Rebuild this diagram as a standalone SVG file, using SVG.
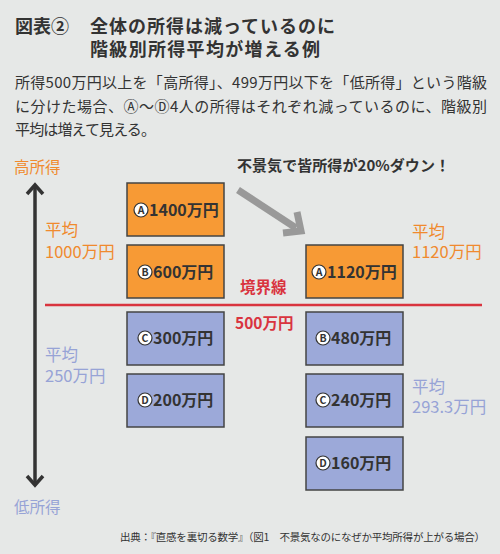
<svg xmlns="http://www.w3.org/2000/svg" width="500" height="554" viewBox="0 0 500 554">
<style>
text{font-family:"Noto Sans CJK JP","Noto Sans",sans-serif;}
.title{font-size:18px;font-weight:700;fill:#333;}
.body{font-size:15px;fill:#333;}
.org{fill:#f08a2e;font-size:16.5px;}
.blu{fill:#97a3d6;font-size:16.5px;}
.red{fill:#d9343f;font-size:15.5px;font-weight:700;}
.boxo{fill:#f79a35;stroke:#444;stroke-width:1.5;}
.boxb{fill:#9ca9d9;stroke:#444;stroke-width:1.5;}
.val{font-size:16px;font-weight:700;fill:#333;}
.circ{fill:#fff;stroke:#333;stroke-width:1.2;}
.let{font-size:10.5px;font-weight:700;fill:#333;text-anchor:middle;}
</style>
<rect width="500" height="554" fill="#e6e8e7"/>
<g id="title">
<text class="title" x="15" y="33">図表②</text>
<text class="title"><tspan x="90" y="33" textLength="245" lengthAdjust="spacing">全体の所得は減っているのに</tspan><tspan x="90" y="56" textLength="230" lengthAdjust="spacing">階級別所得平均が増える例</tspan></text>
</g>
<g id="description">
<text class="body"><tspan x="15" y="88" textLength="472" lengthAdjust="spacing">所得500万円以上を「高所得」、499万円以下を「低所得」という階級</tspan><tspan x="15" y="112" textLength="472" lengthAdjust="spacing">に分けた場合、Ⓐ～Ⓓ4人の所得はそれぞれ減っているのに、階級別</tspan><tspan x="15" y="135" textLength="141" lengthAdjust="spacing">平均は増えて見える。</tspan></text>
</g>
<g id="connectors">
<polyline points="35,483 35,186" fill="none" stroke="#333" stroke-width="3.5"/>
<polyline points="27,194 35,185 43,194" fill="none" stroke="#333" stroke-width="3.5"/>
<polyline points="27,476 35,485 43,476" fill="none" stroke="#333" stroke-width="3.5"/>
<line x1="45" y1="305" x2="482" y2="305" stroke="#d9343f" stroke-width="2.5"/>
<line x1="238" y1="190" x2="296" y2="228" stroke="#999" stroke-width="7"/>
<polyline points="283,233 301,231 297,212" fill="none" stroke="#999" stroke-width="7"/>
</g>
<g id="axis-labels">
<text x="14" y="173" font-size="15.5" fill="#f08a2e">高所得</text>
<text x="14" y="513" font-size="15.5" fill="#97a3d6">低所得</text>
</g>
<g id="avg-left-high">
<text class="org"><tspan x="45" y="236">平均</tspan><tspan x="45" y="258">1000万円</tspan></text>
</g>
<g id="avg-left-low">
<text class="blu"><tspan x="45" y="361">平均</tspan><tspan x="45" y="382">250万円</tspan></text>
</g>
<g id="avg-right-high">
<text class="org"><tspan x="412" y="238">平均</tspan><tspan x="412" y="258">1120万円</tspan></text>
</g>
<g id="avg-right-low">
<text class="blu"><tspan x="412" y="393">平均</tspan><tspan x="412" y="413">293.3万円</tspan></text>
</g>
<g id="boundary">
<text class="red" x="240" y="293">境界線</text>
<text class="red" x="235" y="329">500万円</text>
</g>
<g id="caption">
<text x="237" y="171" font-size="15" font-weight="700" fill="#333" textLength="213" lengthAdjust="spacing">不景気で皆所得が20%ダウン！</text>
</g>
<g id="box-A-before">
<rect class="boxo" x="127" y="183" width="97" height="53"/>
<circle class="circ" cx="141" cy="210" r="7"/><text class="let" x="141" y="213.8">A</text>
<text class="val" x="149" y="216">1400万円</text>
</g>
<g id="box-B-before">
<rect class="boxo" x="127" y="245" width="97" height="53"/>
<circle class="circ" cx="145" cy="272" r="7"/><text class="let" x="145" y="275.8">B</text>
<text class="val" x="153" y="278">600万円</text>
</g>
<g id="box-C-before">
<rect class="boxb" x="127" y="312" width="97" height="53"/>
<circle class="circ" cx="145" cy="338" r="7"/><text class="let" x="145" y="341.8">C</text>
<text class="val" x="153" y="344">300万円</text>
</g>
<g id="box-D-before">
<rect class="boxb" x="127" y="374" width="97" height="53"/>
<circle class="circ" cx="145" cy="400" r="7"/><text class="let" x="145" y="403.8">D</text>
<text class="val" x="153" y="406">200万円</text>
</g>
<g id="box-A-after">
<rect class="boxo" x="306" y="245" width="97" height="53"/>
<circle class="circ" cx="319" cy="272" r="7"/><text class="let" x="319" y="275.8">A</text>
<text class="val" x="327" y="278">1120万円</text>
</g>
<g id="box-B-after">
<rect class="boxb" x="306" y="312" width="97" height="53"/>
<circle class="circ" cx="323" cy="338" r="7"/><text class="let" x="323" y="341.8">B</text>
<text class="val" x="331" y="344">480万円</text>
</g>
<g id="box-C-after">
<rect class="boxb" x="306" y="374" width="97" height="53"/>
<circle class="circ" cx="323" cy="400" r="7"/><text class="let" x="323" y="403.8">C</text>
<text class="val" x="331" y="406">240万円</text>
</g>
<g id="box-D-after">
<rect class="boxb" x="306" y="437" width="97" height="53"/>
<circle class="circ" cx="323" cy="463" r="7"/><text class="let" x="323" y="466.8">D</text>
<text class="val" x="331" y="469">160万円</text>
</g>
<g id="source">
<text x="120" y="541" font-size="10.5" fill="#333" textLength="365" lengthAdjust="spacing">出典：『直感を裏切る数学』（図1　不景気なのになぜか平均所得が上がる場合）</text>
</g>
</svg>
